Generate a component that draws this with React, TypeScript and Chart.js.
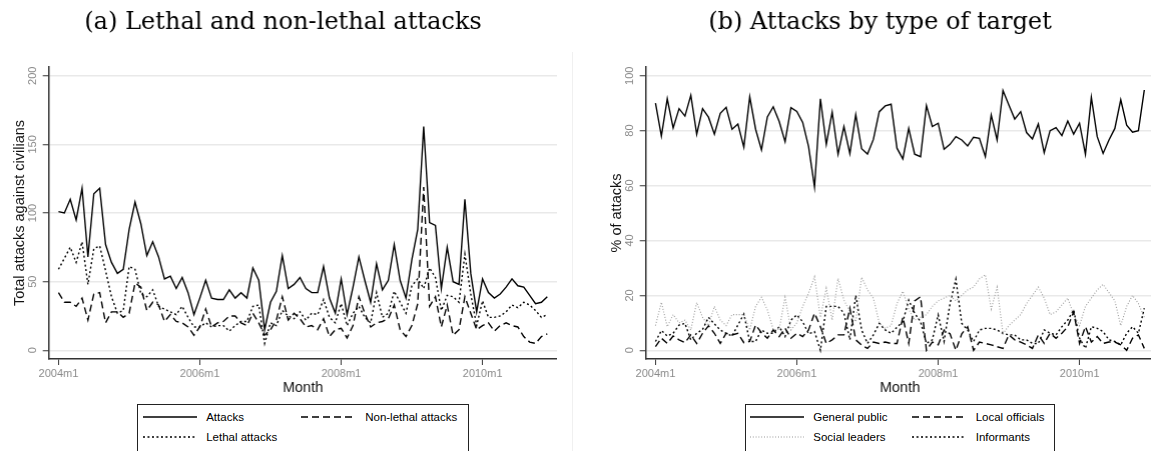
import React, { useEffect, useRef } from 'react';
import { Chart, registerables } from 'chart.js';

Chart.register(...registerables);

// ---------- data ----------
const months: string[] = [];
for (let y = 2004; y <= 2010; y++) for (let m = 1; m <= 12; m++) months.push(`${y}m${m}`);

const tickMonths = [0, 24, 48, 72];
const tickLabels = ['2004m1', '2006m1', '2008m1', '2010m1'];

const leftYTicks = [0, 50, 100, 150, 200];
const rightYTicks = [0, 20, 40, 60, 80, 100];

const attacks = [101, 100, 110, 95, 118, 68, 114, 118, 77, 64, 56, 59, 88, 108, 92, 69, 79, 68, 52, 54, 45, 53, 42, 26, 38, 51, 38, 37, 37, 44, 38, 42, 38, 60, 51, 15, 35, 43, 69, 45, 48, 53, 45, 42, 42, 61, 38, 27, 52, 26, 46, 68, 51, 35, 63, 44, 51, 77, 51, 38, 66, 88, 163, 93, 91, 45, 75, 50, 48, 110, 56, 28, 52, 42, 38, 41, 46, 52, 47, 46, 40, 34, 35, 39];
const nonLethal = [42, 35, 35, 32, 38, 22, 41, 42, 20, 28, 28, 24, 27, 49, 46, 29, 35, 33, 21, 26, 21, 20, 17, 11, 17, 30, 17, 20, 21, 25, 25, 20, 18, 27, 20, 11, 15, 22, 39, 22, 27, 23, 17, 18, 15, 23, 10, 15, 16, 9, 18, 39, 27, 17, 20, 21, 23, 33, 15, 10, 18, 34, 119, 32, 39, 17, 33, 11, 15, 39, 27, 15, 18, 20, 14, 18, 20, 18, 17, 10, 6, 5, 10, 12];
const lethal = [59, 67, 75, 64, 79, 48, 74, 76, 58, 39, 27, 29, 61, 59, 41, 39, 44, 32, 30, 28, 26, 32, 24, 17, 17, 20, 17, 18, 18, 14, 18, 21, 21, 32, 33, 5, 20, 18, 29, 25, 23, 28, 22, 27, 26, 37, 24, 20, 34, 18, 27, 32, 24, 20, 42, 24, 27, 43, 35, 27, 47, 52, 45, 60, 53, 29, 40, 39, 35, 70, 41, 18, 36, 24, 24, 25, 28, 33, 31, 35, 33, 29, 24, 26];

const generalPublic = [90, 78, 91.6, 81, 88, 85.3, 92.9, 78.7, 88, 84.9, 78.7, 86.3, 88.5, 80.5, 82.4, 74, 92.3, 80.5, 73, 85, 88.7, 83.3, 76, 88.4, 87, 83, 74.2, 59.4, 91.6, 75, 86.7, 71.4, 81.5, 71.6, 85.8, 73.4, 71.5, 76.8, 86.9, 89, 89.6, 73.6, 69.7, 80.8, 71.4, 70.5, 89.1, 81.5, 82.7, 73.2, 75, 77.8, 76.6, 74.4, 77.6, 77.2, 70.5, 85.7, 76.6, 94.6, 89.3, 84.2, 86.9, 79.3, 77, 82.4, 72, 80, 81.1, 78.2, 83.5, 78.7, 82.7, 71.4, 92.1, 77.8, 71.7, 76.6, 80.8, 91.2, 82, 79.4, 80, 94.8];
const localOfficials = [1.3, 4.4, 2.5, 5.2, 3.8, 2.8, 5.6, 2.5, 6.2, 8.9, 6.2, 2.5, 6.2, 5.6, 6.2, 2.8, 3.2, 9.2, 6.4, 4.4, 7.4, 5, 8, 4.4, 6.2, 5, 7.4, 13.5, 8.6, 2.5, 3.8, 5.6, 5.6, 15.3, 3.8, 1.9, 0.7, 3, 2.5, 3, 2.5, 2.5, 12, 2.5, 18, 19.5, 0, 3, 2, 7.4, 6, 0, 6, 8.6, 0, 3, 2.5, 2, 1.3, 0.7, 5.6, 3.8, 3, 2, 0.7, 5.6, 2.5, 6.2, 4.4, 6.2, 8.6, 14, 2.5, 8.6, 3, 5, 2.5, 3, 3, 2, 0, 4.4, 5.6, 0.7];
const socialLeaders = [9, 17.5, 8.6, 13, 10, 11, 7.4, 17.4, 12, 9, 16, 11, 9, 13, 13, 13, 7.4, 16, 19.3, 14.7, 7.6, 7.6, 19.3, 7.4, 10, 16, 20.8, 26.8, 12, 22.6, 11, 26.2, 18.3, 14, 10.4, 26.6, 22, 19, 10, 8, 9, 17, 21.5, 15, 11, 12, 13, 16, 18, 19, 20, 18, 20, 22, 23, 26, 27.5, 15, 23, 6, 9, 11, 13, 17, 20, 23, 19, 13, 14, 16.5, 19, 13, 9, 16, 19, 22, 24, 21, 18, 9, 16, 20, 17, 12];
const informants = [3.2, 7.2, 5.2, 6.2, 9.2, 9.8, 3.8, 6.2, 7.6, 12, 9.6, 7.4, 6.2, 5.2, 9.2, 13.2, 3.2, 3.2, 7.4, 6.2, 6.2, 8.6, 5, 11, 12.9, 10.4, 6, 6.8, 0, 16, 16, 16, 13.5, 3.8, 20, 7.4, 2.5, 5.6, 9.8, 7.4, 6.2, 8.4, 10.4, 18.3, 13.5, 10.4, 2.5, 3.8, 12.9, 3.2, 17, 25.9, 9.8, 7.4, 3.2, 7.4, 8, 8, 7.4, 6.2, 5.6, 5.6, 3.8, 3.8, 2.5, 2.5, 7.4, 6.2, 5.6, 8.6, 11, 14.7, 4.4, 0.7, 8.6, 8, 6.8, 3.8, 3.2, 2, 6.2, 8.6, 6.2, 15.3];

// ---------- styles ----------
const SANS = "'Liberation Sans', Arial, Helvetica, sans-serif";
const SERIF = "'DejaVu Serif', serif";
const TICK_GRAY = '#8a8a8a';

type SeriesStyle = { label: string; data: number[]; color: string; width: number; dash: number[] };

const leftSeries: SeriesStyle[] = [
  { label: 'Attacks', data: attacks, color: '#000', width: 1.4, dash: [] },
  { label: 'Non-lethal attacks', data: nonLethal, color: '#000', width: 1.4, dash: [7, 4] },
  { label: 'Lethal attacks', data: lethal, color: '#000', width: 1.4, dash: [2, 2.5] },
];
const rightSeries: SeriesStyle[] = [
  { label: 'General public', data: generalPublic, color: '#000', width: 1.4, dash: [] },
  { label: 'Local officials', data: localOfficials, color: '#000', width: 1.4, dash: [7, 4] },
  { label: 'Social leaders', data: socialLeaders, color: '#9a9a9a', width: 1.1, dash: [1, 1.8] },
  { label: 'Informants', data: informants, color: '#000', width: 1.4, dash: [2, 2.5] },
];

type PanelProps = {
  left: number;
  title: string;
  yTitle: string;
  yTicks: number[];
  yMin: number;
  yMax: number;
  series: SeriesStyle[];
};

const CANVAS_W = 547.4;
const CANVAS_H = 400;

function Panel({ left, title, yTitle, yTicks, yMin, yMax, series }: PanelProps) {
  const ref = useRef<HTMLCanvasElement | null>(null);
  useEffect(() => {
    if (!ref.current) return;
    const chart = new Chart(ref.current, {
      type: 'line',
      data: {
        datasets: series.map((s) => ({
          label: s.label,
          data: s.data.map((v, i) => ({ x: i, y: v })),
          borderColor: s.color,
          borderWidth: s.width,
          borderDash: s.dash,
          pointRadius: 0,
          tension: 0,
          fill: false,
        })),
      },
      options: {
        animation: false,
        responsive: false,
        devicePixelRatio: 1,
        layout: { padding: 0 },
        plugins: {
          legend: { display: false },
          tooltip: { enabled: false },
          title: {
            display: true,
            text: title,
            color: '#000',
            font: { family: SERIF, size: 24, weight: 'normal', lineHeight: 1.2 },
            padding: { top: 8.8, bottom: 29.4 },
          },
        },
        scales: {
          x: {
            type: 'linear',
            min: -1.65,
            max: 84.65,
            afterBuildTicks: (s: any) => {
              s.ticks = tickMonths.map((v) => ({ value: v }));
            },
            afterFit: (s: any) => {
              s.height = 41;
            },
            ticks: {
              autoSkip: false,
              maxRotation: 0,
              minRotation: 0,
              padding: 2,
              color: TICK_GRAY,
              font: { family: SANS, size: 11 },
              callback: (_v: any, i: number) => tickLabels[i] ?? '',
            },
            grid: { drawOnChartArea: false, drawTicks: true, tickLength: 6, tickColor: '#333', tickWidth: 1 },
            border: { display: true, color: '#333', width: 1.5 },
            title: {
              display: true,
              text: 'Month',
              color: '#111',
              font: { family: SANS, size: 14.5, lineHeight: 1.2 },
              padding: { top: 0, bottom: 3 },
            },
          },
          y: {
            type: 'linear',
            min: yMin,
            max: yMax,
            afterBuildTicks: (s: any) => {
              s.ticks = yTicks.map((v) => ({ value: v }));
            },
            afterFit: (s: any) => {
              s.width = 39.7;
            },
            ticks: {
              autoSkip: false,
              minRotation: 90,
              maxRotation: 90,
              crossAlign: 'center',
              padding: 1,
              color: TICK_GRAY,
              font: { family: SANS, size: 11 },
              callback: (v: any) => String(v),
            },
            grid: { color: '#e9e9e9', lineWidth: 1.5, drawTicks: true, tickLength: 6, tickColor: '#333', tickWidth: 1 },
            border: { display: true, color: '#333', width: 1.5 },
            title: {
              display: true,
              text: yTitle,
              color: '#111',
              font: { family: SANS, size: 14.5, lineHeight: 1.2 },
              padding: { top: 2, bottom: 0 },
            },
          },
        },
      } as any,
    });
    return () => chart.destroy();
  }, []);
  return (
    <canvas
      ref={ref}
      width={CANVAS_W}
      height={CANVAS_H}
      style={{ position: 'absolute', left, top: 0, width: CANVAS_W, height: CANVAS_H }}
    />
  );
}

type LegendItem = { s: SeriesStyle; sampleX: number; textX: number; row: number };

function Legend({ left, width, items }: { left: number; width: number; items: LegendItem[] }) {
  const rowCenters = [13.4, 33];
  const sampleLen = 54;
  return (
    <div
      style={{
        position: 'absolute',
        left,
        top: 404.3,
        width,
        height: 60,
        border: '1.5px solid #222',
        boxSizing: 'border-box',
        background: '#fff',
      }}
    >
      {items.map((it, k) => (
        <React.Fragment key={k}>
          <svg
            width={sampleLen}
            height={6}
            style={{ position: 'absolute', left: it.sampleX - 1.5, top: rowCenters[it.row] - 3 - 1.5 }}
          >
            <line
              x1={0}
              y1={3}
              x2={sampleLen}
              y2={3}
              stroke={it.s.color}
              strokeWidth={it.s.width}
              strokeDasharray={it.s.dash.length ? it.s.dash.join(' ') : undefined}
            />
          </svg>
          <span
            style={{
              position: 'absolute',
              left: it.textX - 1.5,
              top: rowCenters[it.row] - 7 - 1.5,
              font: `11.5px ${SANS}`,
              lineHeight: '14px',
              color: '#000',
              whiteSpace: 'nowrap',
            }}
          >
            {it.s.label}
          </span>
        </React.Fragment>
      ))}
    </div>
  );
}

export default function App() {
  useEffect(() => {
    document.body.style.margin = '0';
  }, []);
  return (
    <div
      style={{
        position: 'fixed',
        left: 0,
        top: 0,
        width: 1151,
        height: 451,
        overflow: 'hidden',
        background: '#fff',
      }}
    >
      <Panel
        left={9.3}
        title="(a) Lethal and non-lethal attacks"
        yTitle="Total attacks against civilians"
        yTicks={leftYTicks}
        yMin={-6.34}
        yMax={206.34}
        series={leftSeries}
      />
      <Panel
        left={606.3}
        title="(b) Attacks by type of target"
        yTitle="% of attacks"
        yTicks={rightYTicks}
        yMin={-3.17}
        yMax={103.17}
        series={rightSeries}
      />
      <div style={{ position: 'absolute', left: 571.5, top: 52, width: 1, height: 399, background: '#f0f0f0' }} />
      <Legend
        left={137.3}
        width={331.7}
        items={[
          { s: leftSeries[0], sampleX: 6, textX: 69.4, row: 0 },
          { s: leftSeries[1], sampleX: 164.4, textX: 228.4, row: 0 },
          { s: leftSeries[2], sampleX: 6, textX: 69.4, row: 1 },
        ]}
      />
      <Legend
        left={744.7}
        width={310.8}
        items={[
          { s: rightSeries[0], sampleX: 5.9, textX: 69.1, row: 0 },
          { s: rightSeries[1], sampleX: 167.6, textX: 231.5, row: 0 },
          { s: rightSeries[2], sampleX: 5.9, textX: 69.1, row: 1 },
          { s: rightSeries[3], sampleX: 167.6, textX: 231.5, row: 1 },
        ]}
      />
    </div>
  );
}
